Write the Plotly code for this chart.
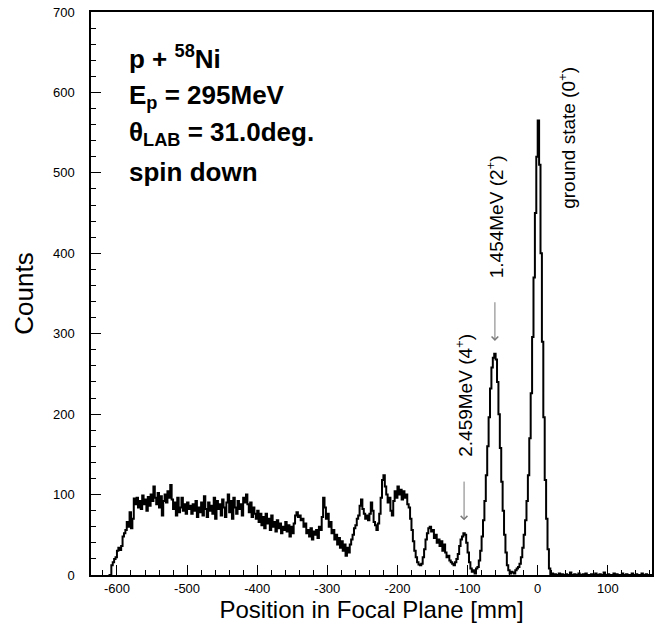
import numpy as np
import plotly.graph_objects as go

# Focal-plane spectrum, 2 mm bins; each list gives counts per bin starting at its first edge
bin_width = 2
continuum_start = -612
counts_continuum = [
    0, 0, 12, 16, 20, 22, 30, 34, 31, 36,
    48, 52, 56, 66, 60, 78, 58, 70, 95, 88,
    96, 84, 92, 82, 99, 88, 94, 80, 97, 86,
    100, 92, 110, 96, 88, 102, 84, 98, 74, 92,
    100, 90, 104, 96, 112, 94, 82, 90, 74, 96,
    78, 84, 96, 80, 88, 76, 90, 82, 86, 76,
    88, 80, 92, 72, 84, 78, 90, 74, 98, 82,
    72, 90, 80, 86, 76, 96, 70, 92, 82, 88,
    74, 94, 84, 72, 90, 100, 78, 92, 70, 96,
    84, 76, 92, 82, 88, 74, 96, 90, 100, 88,
    78, 90, 72, 84, 76, 70, 80, 66, 76, 62,
    72, 58, 76, 64, 70, 56, 74, 60, 66, 54,
    68, 58, 64, 52, 60, 56, 66, 54, 62, 48,
    60, 52, 64, 74, 78, 72, 74, 68, 70, 60,
    64, 52, 56, 48, 58, 44, 54, 50, 56, 46,
    60, 56, 72, 96, 84, 70, 76, 60, 66, 52,
    56, 44, 50, 38, 46, 34, 42, 30, 38, 24,
    34, 28, 38, 44, 50, 58, 62, 70, 74, 86,
    94, 82, 76, 70, 74, 68, 76, 90, 80, 66,
    62, 56, 64, 76, 96, 118, 124, 110, 100, 90,
    96, 80, 74, 92, 104, 96, 110, 100, 106, 94,
    104, 96, 100, 88, 84, 70,
]
# discrete states region, from -180 mm
counts_states = [
    56, 42, 30, 22, 16, 13, 12, 14, 22, 32,
    44, 52, 58, 60, 54, 56, 46, 50, 40, 44,
    36, 42, 30, 38, 28, 22, 24, 18, 16, 14,
    12, 16, 20, 26, 36, 44, 48, 52, 50, 40,
    28, 16, 8, 4, 6, 2, 8, 10, 18, 30,
    48, 68, 92, 124, 160, 196, 232, 258, 270, 275,
    268, 240, 200, 158, 116, 80, 50, 28, 12, 6,
    2, 4, 3, 2, 6, 8, 10, 14, 22, 34,
    50, 68, 92, 124, 170, 226, 296, 370, 450, 520,
    565, 510, 400, 290, 196, 118, 70, 32, 8, 1,
]
# tail above the ground state, from +20 mm
counts_tail = [
    2, 0, 1, 0, 0, 2, 0, 1, 0, 0,
    1, 0, 0, 3, 0, 0, 1, 0, 0, 2,
    0, 0, 1, 0, 2, 0, 0, 0, 1, 0,
    0, 2, 0, 0, 1, 0, 0, 3, 0, 0,
    1, 0, 0, 0, 2, 0, 1, 0, 0, 0,
    2, 0, 0, 1, 0, 0, 0, 2, 0, 0,
    1, 0, 0, 0, 2, 0, 0, 1, 0, 0,
    0, 0,
]

# labelled states: name, peak position [mm]
state_labels = ["2.459MeV (4<sup>+</sup>)", "1.454MeV (2<sup>+</sup>)", "ground state (0<sup>+</sup>)"]
state_pos = [-105, -61, 1]

x_ticks = [-600, -500, -400, -300, -200, -100, 0, 100]
x_ticktext = ["-600", "-500", "-400", "-300", "-200", "-100", "0", "100"]
y_ticks = [0, 100, 200, 300, 400, 500, 600, 700]

counts = np.array(counts_continuum + counts_states + counts_tail, dtype=float)
edges = continuum_start + bin_width * np.arange(len(counts) + 1)
xs = edges
ys = np.append(counts, counts[-1])

FONT = "Liberation Sans, Arial, Helvetica, sans-serif"

fig = go.Figure()
fig.add_trace(go.Scatter(
    x=xs, y=ys, mode="lines", line=dict(color="black", width=2, shape="hv"),
    showlegend=False, hoverinfo="skip",
))

def peak_height(pos):
    i = int(np.argmin(np.abs(edges[:-1] + bin_width / 2 - pos)))
    return counts[max(i - 1, 0):i + 2].max()

annotations = []
# arrows for the two excited states
for name, pos in zip(state_labels[:2], state_pos[:2]):
    h = peak_height(pos)
    annotations.append(dict(
        x=pos, y=h + 16, ax=pos, ay=h + 66, xref="x", yref="y", axref="x", ayref="y",
        showarrow=True, arrowhead=4, arrowsize=1.3, arrowwidth=1, arrowcolor="#7a7a7a", text="",
    ))
    annotations.append(dict(
        x=pos, y=h + 92, xref="x", yref="y", text=name, textangle=-90, showarrow=False,
        xanchor="center", yanchor="bottom", font=dict(family=FONT, size=19, color="black"),
    ))
annotations.append(dict(
    x=state_pos[2] + 41, y=453, xref="x", yref="y", text=state_labels[2], textangle=-90,
    showarrow=False, xanchor="center", yanchor="bottom",
    font=dict(family=FONT, size=19, color="black"),
))

info_lines = [
    "<b>p + <sup>58</sup>Ni</b>",
    "<b>E<sub>p</sub> = 295MeV</b>",
    "<b>θ<sub>LAB</sub> = 31.0deg.</b>",
    "<b>spin down</b>",
]
info_y = [644, 595, 549, 501]
for t, yv in zip(info_lines, info_y):
    annotations.append(dict(
        x=-585, y=yv, xref="x", yref="y", text=t, showarrow=False,
        xanchor="left", yanchor="middle", font=dict(family=FONT, size=26, color="black"),
    ))

axis_common = dict(
    showline=True, linecolor="black", linewidth=1.5, mirror=True,
    ticks="inside", ticklen=10, tickwidth=1.2, tickcolor="black",
    showgrid=False, zeroline=False,
    tickfont=dict(family=FONT, size=13, color="black"),
)

fig.update_layout(
    width=659, height=630,
    margin=dict(l=91, r=5, t=11, b=55),
    paper_bgcolor="white", plot_bgcolor="white",
    annotations=annotations,
    xaxis=dict(
        range=[-637, 163], tickmode="array", tickvals=x_ticks, ticktext=x_ticktext,
        minor=dict(ticks="inside", dtick=20, tick0=0, ticklen=5, tickwidth=1.2, tickcolor="black"),
        title=dict(text="Position in Focal Plane [mm]", font=dict(family=FONT, size=24, color="black"),
                   standoff=6),
        ticklabelstandoff=1,
        **axis_common,
    ),
    yaxis=dict(
        range=[0, 700], tickmode="array", tickvals=y_ticks,
        minor=dict(ticks="inside", dtick=20, tick0=0, ticklen=5, tickwidth=1.2, tickcolor="black"),
        title=dict(text="Counts", font=dict(family=FONT, size=26, color="black"), standoff=12),
        ticklabelstandoff=12,
        **axis_common,
    ),
)

fig.write_html("out.html")
